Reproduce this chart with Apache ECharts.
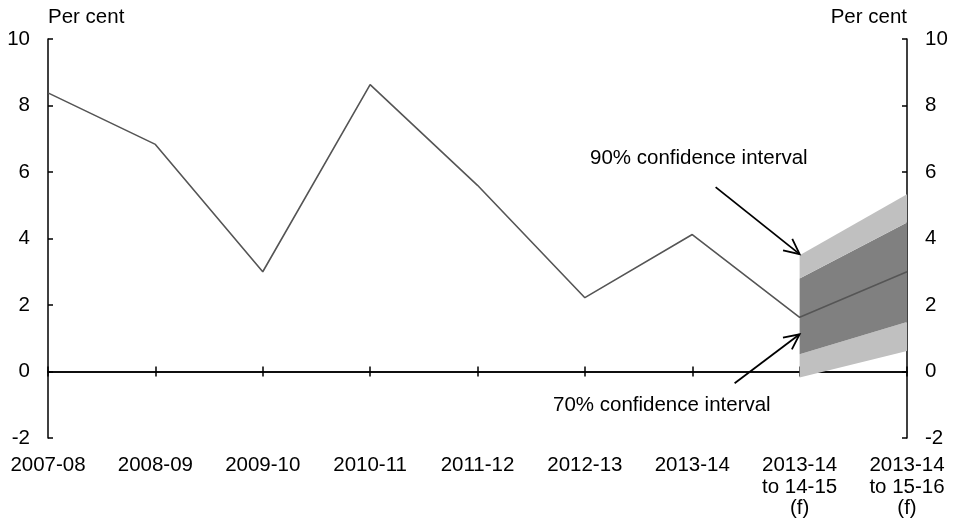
<!DOCTYPE html>
<html>
<head>
<meta charset="utf-8">
<script src="https://cdn.jsdelivr.net/npm/echarts@6/dist/echarts.min.js"></script>
<style>
  html, body { margin: 0; padding: 0; background: #fff; }
  #chart { width: 954px; height: 527px; }
</style>
</head>
<body>
<div id="chart"></div>
<script>
const categories = ['2007-08', '2008-09', '2009-10', '2010-11', '2011-12', '2012-13', '2013-14',
  '2013-14\nto 14-15\n(f)', '2013-14\nto 15-16\n(f)'];
const growth = [8.38, 6.83, 3.0, 8.63, 5.6, 2.22, 4.12, 1.63, 3.0];
// confidence bands, only for the two forecast years
const low90 = [null, null, null, null, null, null, null, -0.18, 0.62];
const low70 = [null, null, null, null, null, null, null, 0.52, 1.49];
const high70 = [null, null, null, null, null, null, null, 2.8, 4.48];
const high90 = [null, null, null, null, null, null, null, 3.5, 5.33];
const yTicks = [-2, 0, 2, 4, 6, 8, 10];

const font = 'Liberation Sans, Arial, sans-serif';
const fs = 20.5;
const diff = (a, b) => a.map((v, i) => (v == null ? null : +(v - b[i]).toFixed(3)));

let chart = echarts.init(document.getElementById('chart'));

function bandSeries(name, data, color) {
  return {
    name: name,
    type: 'line',
    stack: 'fan',
    stackStrategy: 'all',
    data: data,
    symbol: 'none',
    lineStyle: { width: 0 },
    areaStyle: color ? { color: color, opacity: 1 } : undefined,
    silent: true,
    z: 1
  };
}

let yAxisBase = {
  type: 'value',
  min: yTicks[0],
  max: yTicks[yTicks.length - 1],
  interval: 2,
  name: 'Per cent',
  nameLocation: 'end',
  nameGap: 11,
  nameTextStyle: { color: '#000', fontSize: fs, fontFamily: font },
  axisLine: { show: true, onZero: false, lineStyle: { color: '#000', width: 1.5 } },
  axisTick: { show: true, inside: true, length: 5, lineStyle: { color: '#000', width: 1.5 } },
  axisLabel: { color: '#000', fontSize: fs, fontFamily: font, margin: 18 },
  splitLine: { show: false }
};

let xBase = {
  type: 'category',
  data: categories,
  boundaryGap: false,
  axisLabel: { show: false },
  splitLine: { show: false }
};

let option = {
  animation: false,
  backgroundColor: '#fff',
  grid: { left: 48, right: 47, top: 39, bottom: 89 },
  xAxis: [
    Object.assign({}, xBase, {
      position: 'bottom',
      axisLine: { show: false, onZero: false },
      axisTick: { show: false },
      axisLabel: {
        show: true, interval: 0, color: '#000', fontSize: fs, fontFamily: font,
        margin: 17, lineHeight: 21.5
      }
    }),
    Object.assign({}, xBase, {
      position: 'bottom',
      axisLine: { show: true, onZero: true, onZeroAxisIndex: 0, lineStyle: { color: '#000', width: 1.5 } },
      axisTick: { show: true, length: 5, lineStyle: { color: '#000', width: 1.5 } }
    }),
    Object.assign({}, xBase, {
      position: 'top',
      axisLine: { show: true, onZero: true, onZeroAxisIndex: 1, lineStyle: { color: '#000', width: 1.5 } },
      axisTick: { show: true, length: 5, lineStyle: { color: '#000', width: 1.5 } }
    })
  ],
  yAxis: [
    Object.assign({}, yAxisBase, {
      position: 'left',
      nameTextStyle: Object.assign({}, yAxisBase.nameTextStyle, { align: 'left' })
    }),
    Object.assign({}, yAxisBase, {
      position: 'right',
      nameTextStyle: Object.assign({}, yAxisBase.nameTextStyle, { align: 'right' })
    })
  ],
  series: [
    bandSeries('base', low90, null),
    bandSeries('90% low', diff(low70, low90), '#c0c0c0'),
    bandSeries('70%', diff(high70, low70), '#808080'),
    bandSeries('90% high', diff(high90, high70), '#c0c0c0'),
    {
      name: 'Growth',
      type: 'line',
      data: growth,
      symbol: 'none',
      lineStyle: { color: '#555', width: 1.6 },
      z: 5
    }
  ]
};

chart.setOption(option);

// annotations: arrows pointing at the bands
function arrow(from, to) {
  let dx = to[0] - from[0], dy = to[1] - from[1];
  let len = Math.sqrt(dx * dx + dy * dy);
  let ux = dx / len, uy = dy / len;
  let headLen = 17, ang = 0.45;
  let p1 = [to[0] - headLen * (ux * Math.cos(ang) - uy * Math.sin(ang)),
            to[1] - headLen * (uy * Math.cos(ang) + ux * Math.sin(ang))];
  let p2 = [to[0] - headLen * (ux * Math.cos(-ang) - uy * Math.sin(-ang)),
            to[1] - headLen * (uy * Math.cos(-ang) + ux * Math.sin(-ang))];
  let style = { stroke: '#000', lineWidth: 1.8, fill: null };
  return [
    { type: 'line', shape: { x1: from[0], y1: from[1], x2: to[0], y2: to[1] }, style: style, z: 10 },
    { type: 'polyline', shape: { points: [p1, to, p2] }, style: style, z: 10 }
  ];
}

let tip90 = chart.convertToPixel({ xAxisIndex: 0, yAxisIndex: 0 }, [7, high90[7]]);
let tip70 = chart.convertToPixel({ xAxisIndex: 0, yAxisIndex: 0 }, [7, 1.12]);

chart.setOption({
  graphic: [].concat(
    arrow([tip90[0] - 84, tip90[1] - 68], [tip90[0], tip90[1] - 1]),
    arrow([tip70[0] - 65, tip70[1] + 49], tip70),
    [
      {
        type: 'text', left: 590, top: 148, z: 10,
        style: { text: '90% confidence interval', fill: '#000', fontSize: fs, fontFamily: font }
      },
      {
        type: 'text', left: 553, top: 395, z: 10,
        style: { text: '70% confidence interval', fill: '#000', fontSize: fs, fontFamily: font }
      }
    ]
  )
});
</script>
</body>
</html>
